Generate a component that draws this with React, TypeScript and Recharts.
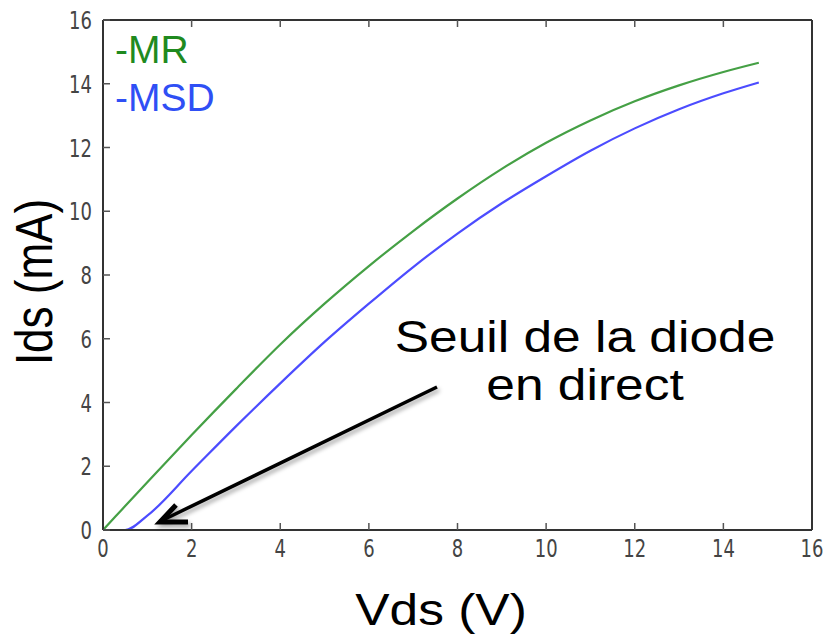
import React from 'react';
import { LineChart, Line, XAxis, YAxis } from 'recharts';

// Vds (V) sample points and the two measured Ids (mA) curves
const vds = [0, 0.5, 1, 2, 3, 4, 5, 6, 7, 8, 9, 10, 11, 12, 13, 14, 14.8];
const mrIds = [0, 0.75, 1.5, 2.98, 4.42, 5.82, 7.1, 8.28, 9.38, 10.4, 11.33, 12.15, 12.85, 13.45, 13.95, 14.37, 14.66];
const msdIds = [0, 0, 0.45, 1.85, 3.25, 4.6, 5.9, 7.1, 8.25, 9.3, 10.25, 11.1, 11.9, 12.6, 13.2, 13.7, 14.04];

const xTicks = [0, 2, 4, 6, 8, 10, 12, 14, 16];
const yTicks = [0, 2, 4, 6, 8, 10, 12, 14, 16];

const seriesNames = ['-MR', '-MSD'];
const annotationLines = ['Seuil de la diode', 'en direct'];

const W = 839;
const H = 637;

const GREEN_LINE = '#45a045';
const BLUE_LINE = '#4c4cff';
const GREEN_TEXT = '#1f8a1f';
const BLUE_TEXT = '#2f4ff5';
const FRAME = '#333';
const TICK_TEXT = '#444';

const data = vds.map((v, i) => ({ vds: v, mr: mrIds[i], msd: msdIds[i] }));

const XTick = (props: any) => {
  const { x, y, payload } = props;
  return (
    <text
      transform={`translate(${x},${y}) scale(0.72,1)`}
      textAnchor="middle"
      fill={TICK_TEXT}
      fontSize={25}
      fontFamily="DejaVu Sans"
    >
      {payload.value}
    </text>
  );
};

const YTick = (props: any) => {
  const { x, y, payload } = props;
  return (
    <text
      transform={`translate(${x},${y + 9}) scale(0.72,1)`}
      textAnchor="end"
      fill={TICK_TEXT}
      fontSize={25}
      fontFamily="DejaVu Sans"
    >
      {payload.value}
    </text>
  );
};

const NoTick = () => <g />;

const App: React.FC = () => {
  const axisLine = { stroke: FRAME, strokeWidth: 2 };
  const tickLine = { stroke: '#555', strokeWidth: 1.5 };
  const textFont = '"Liberation Sans", Arial, sans-serif';

  return (
    <div style={{ position: 'absolute', left: 0, top: 0, width: W, height: H, background: '#fff' }}>
      <LineChart
        width={W}
        height={H}
        data={data}
        margin={{ top: 19, right: 26, left: 53, bottom: 77 }}
      >
        <XAxis
          dataKey="vds"
          type="number"
          domain={[0, 16]}
          ticks={xTicks}
          height={30}
          tickSize={-7}
          tickMargin={34}
          axisLine={axisLine}
          tickLine={tickLine}
          tick={<XTick />}
        />
        <XAxis
          xAxisId="top"
          orientation="top"
          dataKey="vds"
          type="number"
          domain={[0, 16]}
          ticks={xTicks}
          height={1}
          tickSize={-7}
          axisLine={axisLine}
          tickLine={tickLine}
          tick={NoTick}
        />
        <YAxis
          type="number"
          domain={[0, 16]}
          ticks={yTicks}
          width={50}
          tickSize={-7}
          tickMargin={18}
          axisLine={axisLine}
          tickLine={tickLine}
          tick={<YTick />}
        />
        <YAxis
          yAxisId="right"
          orientation="right"
          type="number"
          domain={[0, 16]}
          ticks={yTicks}
          width={1}
          tickSize={-7}
          axisLine={axisLine}
          tickLine={tickLine}
          tick={NoTick}
        />
        <Line
          type="monotone"
          dataKey="mr"
          name={seriesNames[0]}
          stroke={GREEN_LINE}
          strokeWidth={2.2}
          dot={false}
          isAnimationActive={false}
        />
        <Line
          type="monotone"
          dataKey="msd"
          name={seriesNames[1]}
          stroke={BLUE_LINE}
          strokeWidth={2.2}
          dot={false}
          isAnimationActive={false}
        />
      </LineChart>

      {/* labels, legend and the annotation arrow laid over the chart */}
      <svg
        width={W}
        height={H}
        style={{ position: 'absolute', left: 0, top: 0, pointerEvents: 'none' }}
      >
        <defs>
          <filter id="shadow" x="-20%" y="-20%" width="140%" height="160%">
            <feDropShadow dx="2" dy="3" stdDeviation="2" floodColor="#000" floodOpacity="0.35" />
          </filter>
        </defs>

        <text x={115} y={63} fontSize={39} fontFamily={textFont} fill={GREEN_TEXT}>
          {seriesNames[0]}
        </text>
        <text x={115} y={111} fontSize={39} fontFamily={textFont} fill={BLUE_TEXT}>
          {seriesNames[1]}
        </text>

        <text
          transform="translate(441,625) scale(1.17,1)"
          textAnchor="middle"
          fontSize={44}
          fontFamily={textFont}
          fill="#000"
        >
          Vds (V)
        </text>
        <text
          transform="translate(52,282) rotate(-90) scale(1,1.17)"
          textAnchor="middle"
          fontSize={44}
          fontFamily={textFont}
          fill="#000"
        >
          Ids (mA)
        </text>

        {annotationLines.map((line, i) => (
          <text
            key={line}
            transform={`translate(585,${352 + i * 48}) scale(1.17,1)`}
            textAnchor="middle"
            fontSize={44}
            fontFamily={textFont}
            fill="#000"
          >
            {line}
          </text>
        ))}

        <g filter="url(#shadow)" stroke="#000" fill="none">
          <line x1={437} y1={387} x2={163} y2={520} strokeWidth={3.5} />
          <path d="M176,505 L160,522 L188,522" strokeWidth={5} strokeLinejoin="miter" />
        </g>
      </svg>
    </div>
  );
};

export default App;
